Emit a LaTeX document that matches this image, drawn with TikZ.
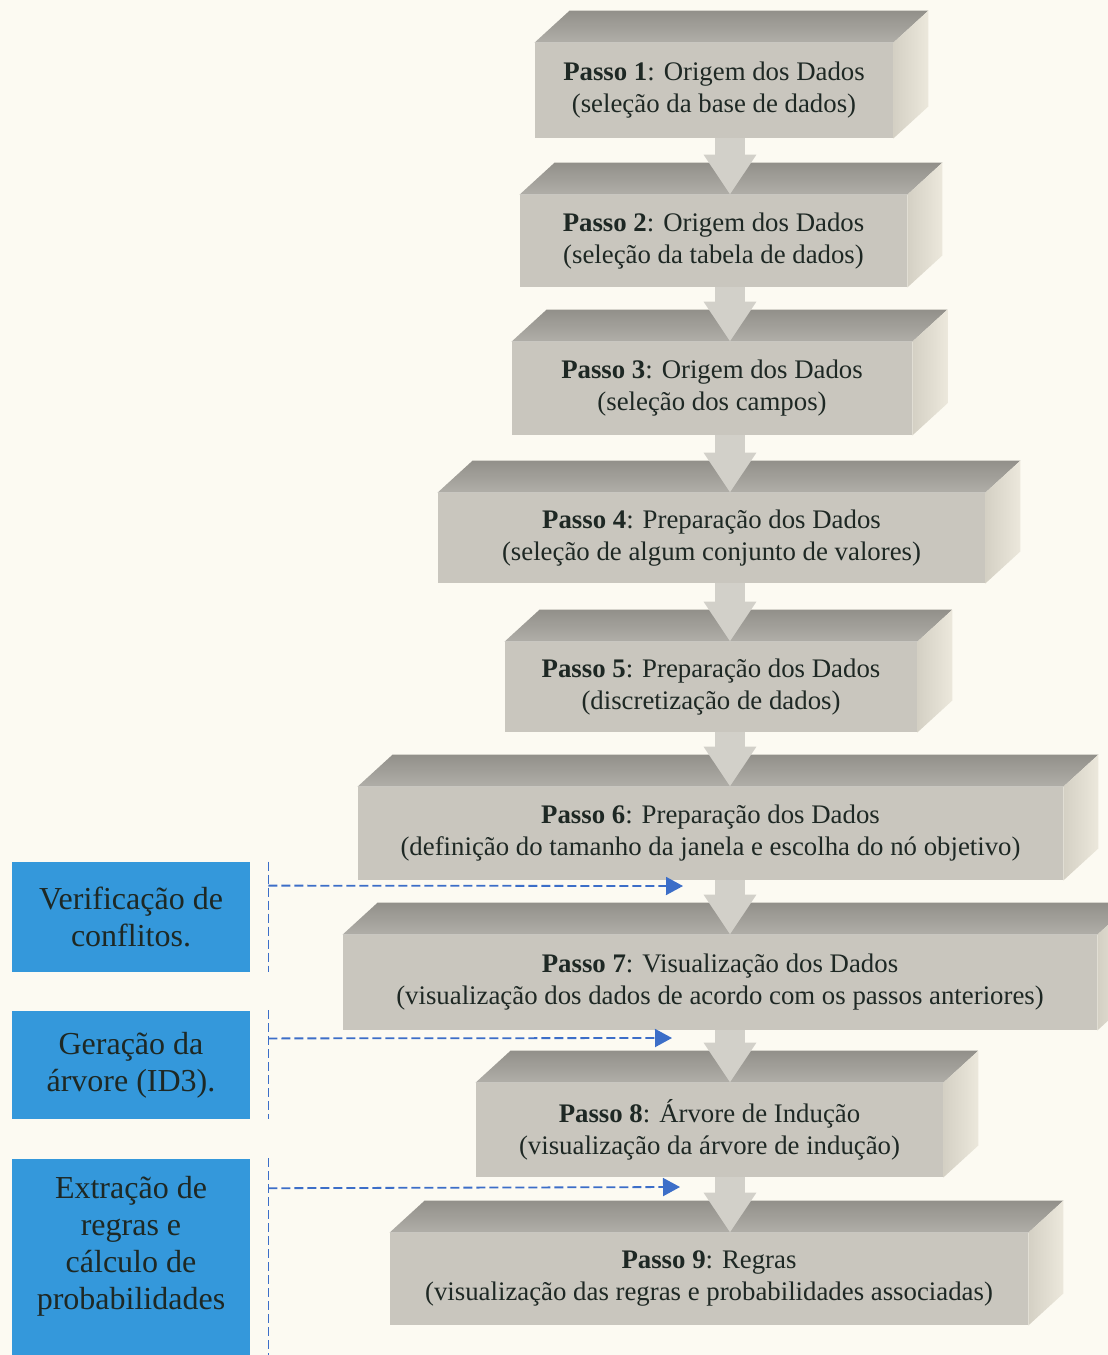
\documentclass[tikz,border=0pt]{standalone}
\definecolor{PaperCream}{RGB}{252, 250, 242}
\definecolor{BlockFront}{RGB}{201, 198, 190}
\definecolor{BlockTop}{RGB}{146, 144, 138}
\definecolor{BlockTopLight}{RGB}{176, 174, 168}
\definecolor{BlockSide}{RGB}{212, 208, 196}
\definecolor{BlockSideLight}{RGB}{236, 232, 220}
\definecolor{StepText}{RGB}{30, 40, 36}
\definecolor{NoteBlue}{RGB}{52, 152, 219}
\definecolor{DashBlue}{RGB}{60, 110, 200}
\definecolor{ArrowGrey}{RGB}{210, 208, 201}
\usepackage{fontspec}
\setmainfont{Liberation Serif}
\usetikzlibrary{arrows.meta, positioning, calc}

\begin{document}
\begin{tikzpicture}[x=0.5pt, y=-0.5pt,
    stepbox/.style={fill=BlockFront, text=StepText, align=center, inner sep=0pt, font=\fontsize{13.4}{16}\selectfont},
    notebox/.style={fill=NoteBlue, text=StepText, align=center, minimum width=119pt, inner sep=0pt, font=\fontsize{16}{18.5}\selectfont},
    topface/.style={top color=BlockTop, bottom color=BlockTopLight},
    sideface/.style={left color=BlockSide, right color=BlockSideLight},
    flow/.style={draw=ArrowGrey, line width=15pt, -{Triangle[width=25pt, length=20pt]}},
    note/.style={draw=DashBlue, line width=0.8pt, dash pattern=on 4.5pt off 2pt},
    notearrow/.style={note, line width=0.9pt, -{Triangle[length=8.5pt, width=9pt]}}]
  \useasboundingbox (0,0) rectangle (1108,1355);
  \fill[PaperCream] (0,0) rectangle (1108,1355);
  \clip (0,0) rectangle (1108,1355);

  \node[stepbox, minimum width=179pt, minimum height=47.5pt] (p1) at (714,90.5) {\textbf{Passo 1}: Origem dos Dados\\(seleção da base de dados)};
  \node[stepbox, minimum width=193.5pt, minimum height=46pt] (p2) at (713.5,241) {\textbf{Passo 2}: Origem dos Dados\\(seleção da tabela de dados)};
  \node[stepbox, minimum width=200pt, minimum height=46.5pt] (p3) at (712,388.5) {\textbf{Passo 3}: Origem dos Dados\\(seleção dos campos)};
  \node[stepbox, minimum width=273.5pt, minimum height=45pt] (p4) at (711.5,538) {\textbf{Passo 4}: Preparação dos Dados\\(seleção de algum conjunto de valores)};
  \node[stepbox, minimum width=206pt, minimum height=45pt] (p5) at (711,687) {\textbf{Passo 5}: Preparação dos Dados\\(discretização de dados)};
  \node[stepbox, minimum width=352.5pt, minimum height=46.5pt] (p6) at (710.5,833.5) {\textbf{Passo 6}: Preparação dos Dados\\(definição do tamanho da janela e escolha do nó objetivo)};
  \node[stepbox, minimum width=377pt, minimum height=47.5pt] (p7) at (720,982.5) {\textbf{Passo 7}: Visualização dos Dados\\(visualização dos dados de acordo com os passos anteriores)};
  \node[stepbox, minimum width=233.5pt, minimum height=47pt] (p8) at (709.5,1130) {\textbf{Passo 8}: Árvore de Indução\\(visualização da árvore de indução)};
  \node[stepbox, minimum width=319pt, minimum height=46pt] (p9) at (709,1279) {\textbf{Passo 9}: Regras\\(visualização das regras e probabilidades associadas)};

  \foreach \i in {1,...,9} {
    \shade[topface] (p\i.north west) -- ++(35,-32) -- ($(p\i.north east)+(35,-32)$) -- (p\i.north east) -- cycle;
    \shade[sideface] (p\i.north east) -- ++(35,-32) -- ($(p\i.south east)+(35,-32)$) -- (p\i.south east) -- cycle;
  }

  \coordinate (ax) at (730,0);
  \foreach \i [evaluate=\i as \j using int(\i+1)] in {1,...,8}
    \draw[flow] (p\i.south -| ax) -- (p\j.north -| ax);

  \node[notebox, minimum height=55pt] (verif) at (131,917) {Verificação de\\conflitos.};
  \node[notebox, minimum height=54pt, below=19pt of verif] (gera) {Geração da\\árvore (ID3).};
  \node[notebox, minimum height=101.5pt, text depth=17pt, below=19.5pt of gera] (extr) {Extração de\\regras e\\cálculo de\\probabilidades};

  \coordinate (t6) at (683,886);
  \coordinate (t7) at (672,1038);
  \coordinate (t8) at (680,1187);
  \draw[note] ([xshift=9pt]verif.north east) -- ([xshift=9pt]verif.south east);
  \draw[note] ([xshift=9pt]gera.north east) -- ([xshift=9pt]gera.south east);
  \draw[note] ([xshift=9pt]extr.north east) -- ([xshift=9pt]extr.south east);
  \draw[notearrow] ([xshift=9pt, yshift=-12pt]verif.north east) -- (t6);
  \draw[notearrow] ([xshift=9pt, yshift=-14pt]gera.north east) -- (t7);
  \draw[notearrow] ([xshift=9pt, yshift=-15pt]extr.north east) -- (t8);
\end{tikzpicture}
\end{document}
